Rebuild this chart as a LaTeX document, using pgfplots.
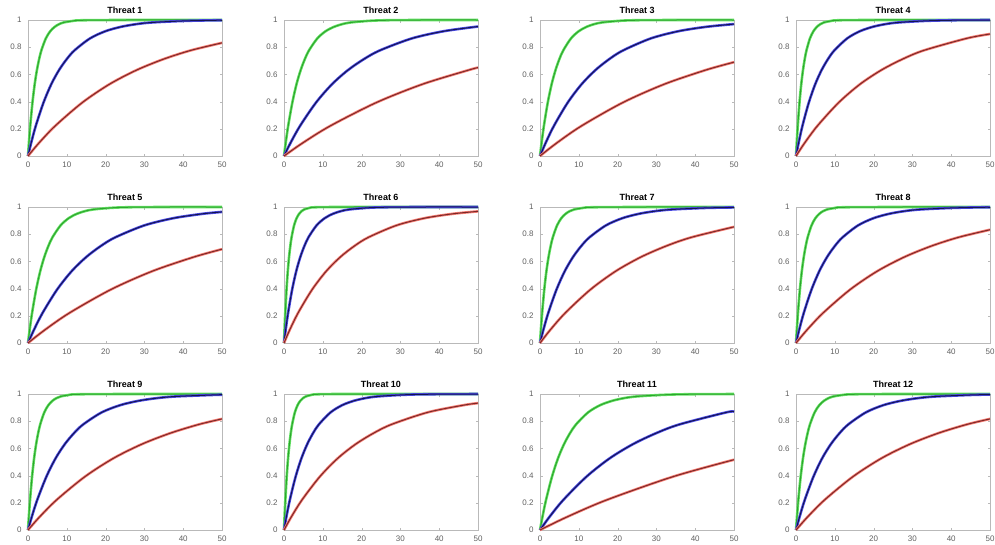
\documentclass[border=0pt]{standalone}
\usepackage{pgfplots}
\pgfplotsset{compat=1.18}
\usepgfplotslibrary{groupplots}
\usepackage{fontspec}
\setmainfont{Liberation Sans}

\definecolor{gthick}{RGB}{100,225,100}
\definecolor{gthin}{RGB}{45,165,45}
\definecolor{bthick}{RGB}{75,75,230}
\definecolor{bthin}{RGB}{20,20,80}
\definecolor{rthick}{RGB}{245,125,115}
\definecolor{rthin}{RGB}{125,40,40}

% each curve: thick coloured line with a thin dark one on top
\newcommand{\curve}[3]{%
  \addplot[#1, line width=2.6pt, smooth] coordinates {#3};
  \addplot[#2, line width=1pt, smooth] coordinates {#3};
}

\begin{document}
\begin{tikzpicture}
\begin{groupplot}[
    group style={group size=4 by 3, horizontal sep=62pt, vertical sep=51pt},
    scale only axis,
    width=194pt, height=136pt,
    xmin=0, xmax=50, ymin=0, ymax=1,
    xtick={0,10,20,30,40,50},
    ytick={0,0.2,0.4,0.6,0.8,1},
    yticklabels={0,0.2,0.4,0.6,0.8,1},
    axis line style={gray!55},
    tick style={gray!55},
    tick align=inside,
    major tick length=2.5pt,
    tick label style={font=\fontsize{8}{9}\selectfont, text=gray!75!black},
    yticklabel style={xshift=-3pt},
    xticklabel style={yshift=-2pt},
    /pgf/number format/assume math mode=true,
    title style={font=\bfseries\fontsize{9}{10}\selectfont, yshift=-3.5pt},
    clip=false,
  ]

\nextgroupplot[title={Threat 1}]
\curve{gthick}{gthin}{(0,0)(0.23,0.095)(0.575,0.221)(1.15,0.393)(1.725,0.528)(2.3,0.632)(2.875,0.713)(3.45,0.777)(4.6,0.865)(5.75,0.918)(6.9,0.950)(8.05,0.970)(9.2,0.982)(11.5,0.993)(13.8,0.998)(25,1)(50,1)}
\curve{bthick}{bthin}{(0,0)(0.8,0.095)(2,0.221)(4,0.393)(6,0.528)(8,0.632)(10,0.713)(12,0.777)(16,0.865)(20,0.918)(24,0.950)(28,0.970)(32,0.982)(40,0.993)(48,0.998)(50,0.998)}
\curve{rthick}{rthin}{(0,0)(2.8,0.095)(7,0.221)(14,0.393)(21,0.528)(28,0.632)(35,0.713)(42,0.777)(50,0.832)}

\nextgroupplot[title={Threat 2}]
\curve{gthick}{gthin}{(0,0)(0.43,0.095)(1.075,0.221)(2.15,0.393)(3.225,0.528)(4.3,0.632)(5.375,0.713)(6.45,0.777)(8.6,0.865)(10.75,0.918)(12.9,0.950)(15.05,0.970)(17.2,0.982)(21.5,0.993)(25.8,0.998)(35,1)(50,1)}
\curve{bthick}{bthin}{(0,0)(1.65,0.095)(4.125,0.221)(8.25,0.393)(12.375,0.528)(16.5,0.632)(20.625,0.713)(24.75,0.777)(33,0.865)(41.25,0.918)(50,0.952)}
\curve{rthick}{rthin}{(0,0)(4.76,0.095)(11.9,0.221)(23.8,0.393)(35.7,0.528)(47.6,0.632)(50,0.650)}

\nextgroupplot[title={Threat 3}]
\curve{gthick}{gthin}{(0,0)(0.4,0.095)(1,0.221)(2,0.393)(3,0.528)(4,0.632)(5,0.713)(6,0.777)(8,0.865)(10,0.918)(12,0.950)(14,0.970)(16,0.982)(20,0.993)(24,0.998)(35,1)(50,1)}
\curve{bthick}{bthin}{(0,0)(1.43,0.095)(3.575,0.221)(7.15,0.393)(10.725,0.528)(14.3,0.632)(17.875,0.713)(21.45,0.777)(28.6,0.865)(35.75,0.918)(42.9,0.950)(50,0.970)}
\curve{rthick}{rthin}{(0,0)(4.27,0.095)(10.675,0.221)(21.35,0.393)(32.025,0.528)(42.7,0.632)(50,0.690)}

\nextgroupplot[title={Threat 4}]
\curve{gthick}{gthin}{(0,0)(0.18,0.095)(0.45,0.221)(0.9,0.393)(1.35,0.528)(1.8,0.632)(2.25,0.713)(2.7,0.777)(3.6,0.865)(4.5,0.918)(5.4,0.950)(6.3,0.970)(7.2,0.982)(9,0.993)(10.8,0.998)(20,1)(50,1)}
\curve{bthick}{bthin}{(0,0)(0.66,0.095)(1.65,0.221)(3.3,0.393)(4.95,0.528)(6.6,0.632)(8.25,0.713)(9.9,0.777)(13.2,0.865)(16.5,0.918)(19.8,0.950)(23.1,0.970)(26.4,0.982)(33,0.993)(39.6,0.998)(50,1)}
\curve{rthick}{rthin}{(0,0)(2.2,0.095)(5.5,0.221)(11,0.393)(16.5,0.528)(22,0.632)(27.5,0.713)(33,0.777)(44,0.865)(50,0.897)}

\nextgroupplot[title={Threat 5}]
\curve{gthick}{gthin}{(0,0)(0.42,0.095)(1.05,0.221)(2.1,0.393)(3.15,0.528)(4.2,0.632)(5.25,0.713)(6.3,0.777)(8.4,0.865)(10.5,0.918)(12.6,0.950)(14.7,0.970)(16.8,0.982)(21,0.993)(25.2,0.998)(35,1)(50,1)}
\curve{bthick}{bthin}{(0,0)(1.5,0.095)(3.75,0.221)(7.5,0.393)(11.25,0.528)(15,0.632)(18.75,0.713)(22.5,0.777)(30,0.865)(37.5,0.918)(45,0.950)(50,0.964)}
\curve{rthick}{rthin}{(0,0)(4.27,0.095)(10.675,0.221)(21.35,0.393)(32.025,0.528)(42.7,0.632)(50,0.690)}

\nextgroupplot[title={Threat 6}]
\curve{gthick}{gthin}{(0,0)(0.13,0.095)(0.325,0.221)(0.65,0.393)(0.975,0.528)(1.3,0.632)(1.625,0.713)(1.95,0.777)(2.6,0.865)(3.25,0.918)(3.9,0.950)(4.55,0.970)(5.2,0.982)(6.5,0.993)(7.8,0.998)(15,1)(50,1)}
\curve{bthick}{bthin}{(0,0)(0.42,0.095)(1.05,0.221)(2.1,0.393)(3.15,0.528)(4.2,0.632)(5.25,0.713)(6.3,0.777)(8.4,0.865)(10.5,0.918)(12.6,0.950)(14.7,0.970)(16.8,0.982)(21,0.993)(25.2,0.998)(35,1)(50,1)}
\curve{rthick}{rthin}{(0,0)(1.45,0.095)(3.625,0.221)(7.25,0.393)(10.875,0.528)(14.5,0.632)(18.125,0.713)(21.75,0.777)(29,0.865)(36.25,0.918)(43.5,0.950)(50,0.968)}

\nextgroupplot[title={Threat 7}]
\curve{gthick}{gthin}{(0,0)(0.22,0.095)(0.55,0.221)(1.1,0.393)(1.65,0.528)(2.2,0.632)(2.75,0.713)(3.3,0.777)(4.4,0.865)(5.5,0.918)(6.6,0.950)(7.7,0.970)(8.8,0.982)(11,0.993)(13.2,0.998)(25,1)(50,1)}
\curve{bthick}{bthin}{(0,0)(0.85,0.095)(2.125,0.221)(4.25,0.393)(6.375,0.528)(8.5,0.632)(10.625,0.713)(12.75,0.777)(17,0.865)(21.25,0.918)(25.5,0.950)(29.75,0.970)(34,0.982)(42.5,0.993)(50,0.997)}
\curve{rthick}{rthin}{(0,0)(2.6,0.095)(6.5,0.221)(13,0.393)(19.5,0.528)(26,0.632)(32.5,0.713)(39,0.777)(50,0.854)}

\nextgroupplot[title={Threat 8}]
\curve{gthick}{gthin}{(0,0)(0.2,0.095)(0.5,0.221)(1,0.393)(1.5,0.528)(2,0.632)(2.5,0.713)(3,0.777)(4,0.865)(5,0.918)(6,0.950)(7,0.970)(8,0.982)(10,0.993)(12,0.998)(25,1)(50,1)}
\curve{bthick}{bthin}{(0,0)(0.8,0.095)(2,0.221)(4,0.393)(6,0.528)(8,0.632)(10,0.713)(12,0.777)(16,0.865)(20,0.918)(24,0.950)(28,0.970)(32,0.982)(40,0.993)(48,0.998)(50,0.998)}
\curve{rthick}{rthin}{(0,0)(2.79,0.095)(6.975,0.221)(13.95,0.393)(20.925,0.528)(27.9,0.632)(34.875,0.713)(41.85,0.777)(50,0.833)}

\nextgroupplot[title={Threat 9}]
\curve{gthick}{gthin}{(0,0)(0.21,0.095)(0.525,0.221)(1.05,0.393)(1.575,0.528)(2.1,0.632)(2.625,0.713)(3.15,0.777)(4.2,0.865)(5.25,0.918)(6.3,0.950)(7.35,0.970)(8.4,0.982)(10.5,0.993)(12.6,0.998)(25,1)(50,1)}
\curve{bthick}{bthin}{(0,0)(0.95,0.095)(2.375,0.221)(4.75,0.393)(7.125,0.528)(9.5,0.632)(11.875,0.713)(14.25,0.777)(19,0.865)(23.75,0.918)(28.5,0.950)(33.25,0.970)(38,0.982)(47.5,0.993)(50,0.995)}
\curve{rthick}{rthin}{(0,0)(2.94,0.095)(7.35,0.221)(14.7,0.393)(22.05,0.528)(29.4,0.632)(36.75,0.713)(44.1,0.777)(50,0.817)}

\nextgroupplot[title={Threat 10}]
\curve{gthick}{gthin}{(0,0)(0.14,0.095)(0.35,0.221)(0.7,0.393)(1.05,0.528)(1.4,0.632)(1.75,0.713)(2.1,0.777)(2.8,0.865)(3.5,0.918)(4.2,0.950)(4.9,0.970)(5.6,0.982)(7,0.993)(8.4,0.998)(15,1)(50,1)}
\curve{bthick}{bthin}{(0,0)(0.6,0.095)(1.5,0.221)(3,0.393)(4.5,0.528)(6,0.632)(7.5,0.713)(9,0.777)(12,0.865)(15,0.918)(18,0.950)(21,0.970)(24,0.982)(30,0.993)(36,0.998)(50,1)}
\curve{rthick}{rthin}{(0,0)(1.85,0.095)(4.625,0.221)(9.25,0.393)(13.875,0.528)(18.5,0.632)(23.125,0.713)(27.75,0.777)(37,0.865)(46.25,0.918)(50,0.933)}

\nextgroupplot[title={Threat 11}]
\curve{gthick}{gthin}{(0,0)(0.62,0.095)(1.55,0.221)(3.1,0.393)(4.65,0.528)(6.2,0.632)(7.75,0.713)(9.3,0.777)(12.4,0.865)(15.5,0.918)(18.6,0.950)(21.7,0.970)(24.8,0.982)(31,0.993)(37.2,0.998)(50,1)}
\curve{bthick}{bthin}{(0,0)(2.4,0.095)(6,0.221)(12,0.393)(18,0.528)(24,0.632)(30,0.713)(36,0.777)(48,0.865)(50,0.870)}
\curve{rthick}{rthin}{(0,0)(6.87,0.095)(17.175,0.221)(34.35,0.393)(50,0.517)}

\nextgroupplot[title={Threat 12}]
\curve{gthick}{gthin}{(0,0)(0.24,0.095)(0.6,0.221)(1.2,0.393)(1.8,0.528)(2.4,0.632)(3,0.713)(3.6,0.777)(4.8,0.865)(6,0.918)(7.2,0.950)(8.4,0.970)(9.6,0.982)(12,0.993)(14.4,0.998)(25,1)(50,1)}
\curve{bthick}{bthin}{(0,0)(0.9,0.095)(2.25,0.221)(4.5,0.393)(6.75,0.528)(9,0.632)(11.25,0.713)(13.5,0.777)(18,0.865)(22.5,0.918)(27,0.950)(31.5,0.970)(36,0.982)(45,0.993)(50,0.996)}
\curve{rthick}{rthin}{(0,0)(2.94,0.095)(7.35,0.221)(14.7,0.393)(22.05,0.528)(29.4,0.632)(36.75,0.713)(44.1,0.777)(50,0.817)}

\end{groupplot}
% fix the page to the reference's margins round the grid of axes
\pgfresetboundingbox
\path[use as bounding box] ([xshift=-28pt, yshift=20pt]group c1r1.north west)
  rectangle ([xshift=5pt, yshift=-14pt]group c4r3.south east);
\end{tikzpicture}
\end{document}
